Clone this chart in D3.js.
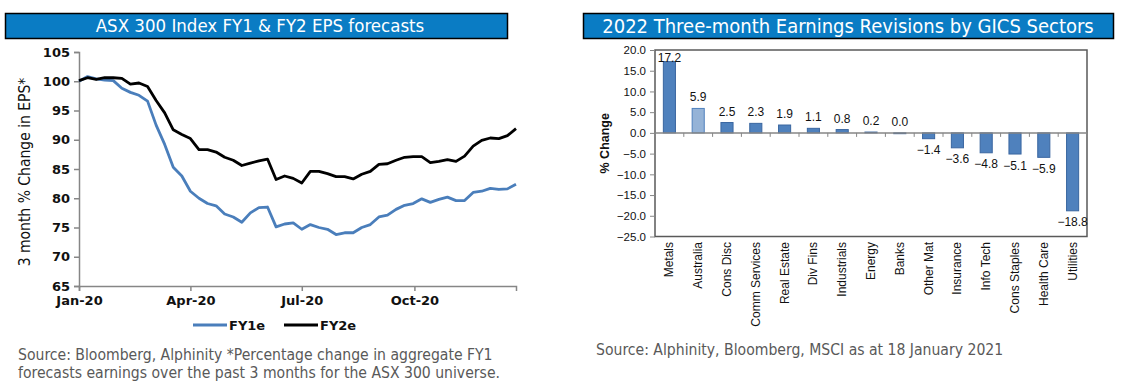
<!DOCTYPE html>
<html><head><meta charset="utf-8">
<script src="https://cdn.jsdelivr.net/npm/d3@7"></script>
<style>
body{margin:0;background:#fff;}
svg{display:block;}
</style></head>
<body>
<svg id="c" width="1131" height="387"></svg>
<script>
// ---------- Left chart data ----------
const startDate = "2020-01-01";
const weekCount = 52;
const fy1e = [100.0,100.8,100.4,100.2,100.1,98.8,98.1,97.6,96.6,92.5,89.2,85.3,83.8,81.2,80.0,79.1,78.7,77.3,76.8,75.9,77.5,78.4,78.5,75.1,75.6,75.8,74.7,75.5,75.0,74.7,73.8,74.1,74.1,75.0,75.5,76.8,77.1,78.1,78.8,79.1,79.9,79.3,79.8,80.2,79.6,79.6,81.0,81.2,81.7,81.5,81.6,82.4];
const fy2e = [100.1,100.6,100.3,100.6,100.6,100.5,99.5,99.7,99.1,96.7,94.6,91.7,90.9,90.2,88.3,88.3,87.9,87.0,86.5,85.6,86.0,86.4,86.7,83.2,83.8,83.4,82.6,84.6,84.6,84.2,83.7,83.7,83.3,84.1,84.6,85.8,85.9,86.5,87.0,87.1,87.1,86.1,86.3,86.6,86.3,87.2,88.9,89.9,90.3,90.2,90.7,91.9];
const leftYTicks = [65,70,75,80,85,90,95,100,105];
const leftXTicks = ["2020-01-01","2020-04-01","2020-07-01","2020-10-01"];
const leftXTickLabels = ["Jan-20","Apr-20","Jul-20","Oct-20"];
const leftSeriesNames = ["FY1e","FY2e"];

// ---------- Right chart data ----------
const sectors = ["Metals","Australia","Cons Disc","Comm Services","Real Estate","Div Fins","Industrials","Energy","Banks","Other Mat","Insurance","Info Tech","Cons Staples","Health Care","Utilities"];
const revisions = [17.2,5.9,2.5,2.3,1.9,1.1,0.8,0.2,0.0,-1.4,-3.6,-4.8,-5.1,-5.9,-18.8];
const highlighted = ["Australia"];
const rightYTicks = [-25,-20,-15,-10,-5,0,5,10,15,20];

const svg = d3.select("#c");
const titleBlue = "#0a7cc4";
const axisGrey = "#868686";
const condensed = "'DejaVu Sans Condensed','DejaVu Sans',sans-serif";

// ================= LEFT =================
(function(){
  svg.append("rect").attr("x",5.5).attr("y",13.5).attr("width",502).attr("height",25)
    .attr("fill",titleBlue).attr("stroke","#000").attr("stroke-width",1.5);
  svg.append("text").attr("x",260).attr("y",32).attr("text-anchor","middle")
    .attr("fill","#fff").style("font-family",condensed).style("font-size","18.5px")
    .text("ASX 300 Index FY1 & FY2 EPS forecasts");

  const parse = d3.utcParse("%Y-%m-%d");
  const t0 = parse(startDate);
  const dates = d3.range(weekCount).map(i => d3.utcDay.offset(t0, 7*i));
  const x = d3.scaleUtc().domain([dates[0], dates[dates.length-1]]).range([79, 516]);
  const y = d3.scaleLinear().domain([65,105]).range([286,52]);

  const g = svg.append("g");
  const yAxis = d3.axisLeft(y).tickValues(leftYTicks).tickSize(5).tickPadding(4).tickFormat(d3.format("d"));
  const ya = g.append("g").attr("transform","translate(79,0)").call(yAxis);
  const xAxis = d3.axisBottom(x).tickValues(leftXTicks.map(parse)).tickSize(5).tickPadding(5)
    .tickFormat((d,i)=>leftXTickLabels[i]);
  const xa = g.append("g").attr("transform","translate(0,286)").call(xAxis);
  [ya,xa].forEach(a=>{
    a.select(".domain").attr("stroke",axisGrey).attr("stroke-width",1.5);
    a.selectAll(".tick line").attr("stroke",axisGrey).attr("stroke-width",1.5);
    a.selectAll("text").attr("fill","#111").style("font-family","'DejaVu Sans',sans-serif")
      .style("font-size","13px").style("font-weight","bold");
  });

  const line = d3.line().x((d,i)=>x(dates[i])).y(d=>y(d));
  g.append("path").datum(fy1e).attr("d",line).attr("fill","none").attr("stroke","#4a7ebb").attr("stroke-width",2.8).attr("stroke-linejoin","round");
  g.append("path").datum(fy2e).attr("d",line).attr("fill","none").attr("stroke","#000").attr("stroke-width",2.8).attr("stroke-linejoin","round");

  svg.append("text").attr("transform","translate(30,172) rotate(-90)").attr("text-anchor","middle")
    .attr("fill","#111").style("font-family",condensed).style("font-size","15.5px")
    .text("3 month % Change in EPS*");

  // legend
  const lg = svg.append("g");
  const legColors = ["#4a7ebb","#000"];
  const legX = [193, 284];
  leftSeriesNames.forEach((n,i)=>{
    lg.append("line").attr("x1",legX[i]).attr("x2",legX[i]+34).attr("y1",325).attr("y2",325)
      .attr("stroke",legColors[i]).attr("stroke-width",2.8);
    lg.append("text").attr("x",legX[i]+36).attr("y",330).attr("fill","#111")
      .style("font-family","'DejaVu Sans',sans-serif").style("font-size","13px").style("font-weight","bold").text(n);
  });

  svg.append("text").attr("x",18).attr("y",360).attr("fill","#595959")
    .style("font-family",condensed).style("font-size","15.6px")
    .text("Source: Bloomberg, Alphinity *Percentage change in aggregate FY1");
  svg.append("text").attr("x",18).attr("y",378).attr("fill","#595959")
    .style("font-family",condensed).style("font-size","15.6px")
    .text("forecasts earnings over the past 3 months for the ASX 300 universe.");
})();

// ================= RIGHT =================
(function(){
  svg.append("rect").attr("x",583.5).attr("y",13.5).attr("width",530).attr("height",25)
    .attr("fill",titleBlue).attr("stroke","#000").attr("stroke-width",1.5);
  svg.append("text").attr("x",848).attr("y",32.5).attr("text-anchor","middle")
    .attr("fill","#fff").style("font-family",condensed).style("font-size","20px")
    .text("2022 Three-month Earnings Revisions by GICS Sectors");

  const L=655, R=1087, T=50, B=236.5;
  const x = d3.scaleBand().domain(sectors).range([L,R]).paddingInner(0.58).paddingOuter(0.29);
  const y = d3.scaleLinear().domain([-25,20]).range([B,T]);
  const arial = "'Liberation Sans',Arial,sans-serif";

  svg.append("rect").attr("x",L).attr("y",T).attr("width",R-L).attr("height",B-T)
    .attr("fill","none").attr("stroke","#595959").attr("stroke-width",1.5);

  const ya = svg.append("g").attr("transform",`translate(${L},0)`)
    .call(d3.axisLeft(y).tickValues(rightYTicks).tickSize(5).tickPadding(4).tickFormat(d3.format(".1f")));
  ya.select(".domain").remove();
  ya.selectAll(".tick line").attr("stroke",axisGrey);
  ya.selectAll("text").attr("fill","#111").style("font-family",arial).style("font-size","11.5px");

  // bars
  const data = sectors.map((s,i)=>({s, v:revisions[i]}));
  svg.append("g").selectAll("rect").data(data).join("rect")
    .attr("x",d=>x(d.s)).attr("width",x.bandwidth())
    .attr("y",d=>y(Math.max(0,d.v))).attr("height",d=>Math.max(0.8,Math.abs(y(d.v)-y(0))))
    .attr("fill",d=>highlighted.includes(d.s)?"#95b3d7":"#4f81bd")
    .attr("stroke",d=>highlighted.includes(d.s)?"#4f81bd":"#3a66a0").attr("stroke-width",1);

  // zero axis with ticks at band boundaries
  const step = x.step();
  const zg = svg.append("g");
  zg.append("line").attr("x1",L).attr("x2",R).attr("y1",y(0)).attr("y2",y(0)).attr("stroke",axisGrey).attr("stroke-width",1.5);
  d3.range(sectors.length+1).forEach(i=>{
    const xx = L + i*step;
    zg.append("line").attr("x1",xx).attr("x2",xx).attr("y1",y(0)).attr("y2",y(0)+4).attr("stroke",axisGrey);
  });

  // value labels
  svg.append("g").selectAll("text").data(data).join("text")
    .attr("x",d=>x(d.s)+x.bandwidth()/2)
    .attr("y",d=>d.v>=0 ? Math.max(y(d.v)-7, T+11.5) : y(d.v)+15.5)
    .attr("text-anchor","middle").attr("fill","#111")
    .style("font-family",arial).style("font-size","12px")
    .text(d=>d3.format(".1f")(d.v));

  // category labels
  svg.append("g").selectAll("text").data(sectors).join("text")
    .attr("transform",d=>`translate(${x(d)+x.bandwidth()/2+4},242) rotate(-90)`)
    .attr("text-anchor","end").attr("fill","#111")
    .style("font-family",arial).style("font-size","12px")
    .text(d=>d);

  svg.append("text").attr("transform",`translate(609,${(T+B)/2}) rotate(-90)`).attr("text-anchor","middle")
    .attr("fill","#111").style("font-family",arial).style("font-size","12.5px").style("font-weight","bold")
    .text("% Change");

  svg.append("text").attr("x",596).attr("y",355).attr("fill","#595959")
    .style("font-family",condensed).style("font-size","15.6px")
    .text("Source: Alphinity, Bloomberg, MSCI as at 18 January 2021");
})();
</script>
</body></html>
